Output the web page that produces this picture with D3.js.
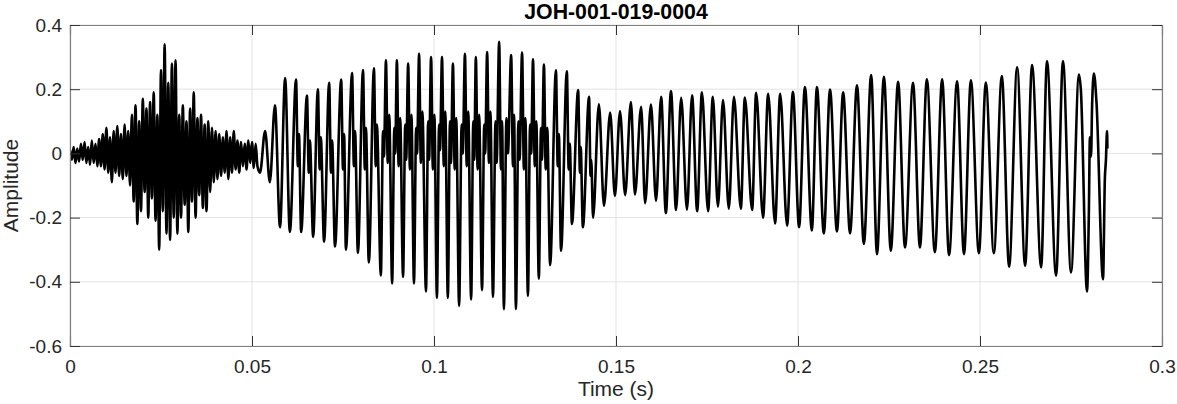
<!DOCTYPE html>
<html><head><meta charset="utf-8">
<script src="https://cdn.jsdelivr.net/npm/d3@7"></script>
<style>body{margin:0;background:#fff}text{font-family:"Liberation Sans",Arial,Helvetica,sans-serif}</style>
</head><body>
<svg id="chart" width="1177" height="404"></svg>
<script>
// ---------- data (times in ms, amplitudes) ----------
const chartTitle = "JOH-001-019-0004";
const xLabel = "Time (s)";
const yLabel = "Amplitude";
const xTicks = [0, 0.05, 0.1, 0.15, 0.2, 0.25, 0.3];
const xTickLabels = ["0", "0.05", "0.1", "0.15", "0.2", "0.25", "0.3"];
const yTicks = [0.4, 0.2, 0, -0.2, -0.4, -0.6];
const yTickLabels = ["0.4", "0.2", "0", "-0.2", "-0.4", "-0.6"];

// unvoiced onset (samples of extrema, every 0.5 ms from 0 ms)
const noiseStepMs = 0.5;
const noiseA = [0.01,-0.02,0.02,-0.03,0.015,-0.025,0.03,-0.02,0.035,-0.03,0.02,-0.035,0.04,-0.03,0.03,-0.04,0.045,
 -0.04,0.06,-0.05,0.08,-0.06,0.05,-0.09,0.07,-0.06,0.085,-0.07,0.06,-0.08,0.09,-0.07,0.07,
 -0.10,0.12,-0.15,0.15,-0.22,0.10,-0.18,0.17,-0.12,0.14,-0.20,0.16,
 -0.14,0.19,-0.21,0.12,-0.30,
 0.26,-0.18,0.34,-0.25,0.22,-0.27,0.28,
 -0.20,0.29,-0.25,0.12,-0.20,0.15,-0.16,
 0.10,-0.245,0.14,-0.15,0.19,-0.20,0.11,
 -0.13,0.12,-0.17,0.09,-0.18,0.10,-0.12,0.08,
 -0.09,0.07,-0.08,0.06,-0.07,0.05,-0.06,0.07,-0.08,0.05,-0.06,0.07,
 -0.05,0.04,-0.06,0.035,-0.04,0.03,-0.05,0.04,-0.03,0.035,-0.045,0.03,-0.04];

const onsetT = [52.2, 53.6, 54.9];
const onsetA = [-0.06, 0.07, -0.09];

// voiced part: cycle peaks
const peakT = [56.3,59.1,62.1,65.1,68.1,71.2,74.5,77.5,80.5,83.5,86.8,89.8,92.9,95.9,99.2,102.2,105.2,108.5,111.5,114.6,
 117.9,121.2,124.2,127.2,130.2,133.5,136.5,139.6,142.6,145.3,148.4,151.1,154.1,156.9,159.6,162.4,165.1,167.9,170.9,173.6,
 176.6,179.4,182.4,185.4,188.5,191.8,195.1,198.6,201.9,205.2,208.8,212.4,216.2,220.1,223.6,227.5,231.6,235.4,239.6,243.7,
 247.5,251.6,256.0,260.2,264.3,268.4,272.8,277.2,281.3];
const peakA = [0.15,0.235,0.23,0.18,0.20,0.22,0.23,0.25,0.26,0.265,0.29,0.29,0.28,0.31,0.30,0.30,0.28,0.31,0.30,0.316,
 0.348,0.306,0.314,0.293,0.277,0.259,0.256,0.197,0.176,0.153,0.127,0.132,0.16,0.145,0.152,0.176,0.194,0.173,0.181,0.19,
 0.176,0.166,0.176,0.174,0.189,0.186,0.186,0.192,0.207,0.207,0.199,0.19,0.2125,0.244,0.239,0.223,0.22,0.231,0.231,0.225,
 0.228,0.221,0.241,0.268,0.275,0.2875,0.2875,0.246,0.249];

// voiced part: cycle troughs
const troughT = [57.7,60.4,63.5,66.8,69.8,72.8,75.8,79.1,82.1,85.4,88.5,91.5,94.5,97.8,100.8,103.8,106.9,110.2,113.2,116.2,
 119.2,122.5,125.8,128.8,131.9,134.9,137.9,140.9,143.7,146.7,149.7,152.5,155.2,158.0,161.0,163.7,166.5,169.5,172.3,175.3,
 178.0,181.0,184.3,187.4,190.4,193.7,197.0,200.3,203.8,207.1,210.7,214.3,218.1,221.7,225.5,229.4,233.5,237.6,241.5,245.6,
 249.7,253.8,258.0,262.4,266.8,270.9,275.0,279.4,283.8];
const troughA = [-0.23,-0.245,-0.245,-0.26,-0.275,-0.29,-0.30,-0.31,-0.34,-0.38,-0.405,-0.385,-0.405,-0.43,-0.45,-0.45,-0.475,-0.455,-0.426,-0.447,
 -0.485,-0.485,-0.444,-0.39,-0.348,-0.303,-0.22,-0.23,-0.20,-0.163,-0.133,-0.13,-0.128,-0.155,-0.147,-0.186,-0.176,-0.175,-0.18,-0.18,
 -0.166,-0.172,-0.172,-0.176,-0.20,-0.218,-0.225,-0.23,-0.24,-0.249,-0.243,-0.249,-0.282,-0.314,-0.303,-0.293,-0.293,-0.308,-0.317,-0.314,
 -0.311,-0.311,-0.353,-0.35,-0.355,-0.381,-0.371,-0.43,-0.392];

// secondary (formant) ripples on the falling side of the cycles
const rippleT = [62.6,62.9,65.6,65.9,68.6,68.9,71.7,72.0,75.0,75.3,78.0,78.3,81.0,81.3,84.0,84.3,87.3,87.7,90.3,90.7,
 93.4,93.8,96.4,96.8,99.7,100.1,102.7,103.1,105.7,106.1,109.0,109.4,112.0,112.4,115.1,115.5,118.4,118.7,121.7,122.0,
 124.7,125.1,127.7,128.1,130.7,131.1,134.0,134.3,137.0,137.3,140.1,140.3,143.0,143.2];
const rippleA = [-0.04,0.06,-0.06,0.04,-0.05,0.05,-0.06,0.04,-0.05,0.06,-0.04,0.07,-0.05,0.08,-0.04,0.09,-0.03,0.12,-0.04,0.11,
 -0.05,0.12,-0.03,0.13,-0.05,0.12,-0.04,0.13,-0.05,0.11,-0.04,0.13,-0.05,0.12,-0.03,0.13,-0.05,0.10,-0.04,0.12,
 -0.05,0.11,-0.04,0.10,-0.05,0.08,-0.04,0.06,-0.05,0.03,-0.06,0.02,-0.07,-0.02];

// secondary ripples on the rising side (dense middle section)
const riseRippleT = [86.0,86.25,89.1,89.35,92.1,92.35,95.1,95.35,98.4,98.65,101.4,101.65,104.4,104.65,107.6,107.9,
 110.8,111.05,113.8,114.05,116.9,117.2,119.9,120.3,123.2,123.5,126.4,126.7,129.4,129.65];
const riseRippleA = [0.07,-0.01,0.08,0.0,0.09,-0.02,0.08,0.0,0.10,-0.02,0.09,0.01,0.10,-0.03,0.09,0.0,
 0.10,-0.02,0.09,0.0,0.10,-0.03,0.11,0.0,0.10,-0.02,0.09,0.0,0.08,-0.02];

// irregular ending
const tailT = [277.7,279.9,280.2,280.5,280.8,282.0,284.3,284.6,284.9,285.0];
const tailA = [0.20,-0.19,0.05,-0.01,0.15,0.16,-0.08,-0.02,0.07,0.015];

// ---------- build ----------
const M = {left: 70, right: 1162, top: 25, bottom: 346};
const svg = d3.select("#chart");
const xs = d3.scaleLinear().domain([0, 0.3]).range([M.left, M.right]);
const ys = d3.scaleLinear().domain([-0.6, 0.4]).range([M.bottom, M.top]);

let pts = [];
noiseA.forEach((a, i) => pts.push([i * noiseStepMs, a]));
onsetT.forEach((t, i) => pts.push([t, onsetA[i]]));
peakT.forEach((t, i) => pts.push([t, peakA[i]]));
troughT.forEach((t, i) => pts.push([t, troughA[i]]));
rippleT.forEach((t, i) => pts.push([t, rippleA[i]]));
riseRippleT.forEach((t, i) => pts.push([t, riseRippleA[i]]));
tailT.forEach((t, i) => pts.push([t, tailA[i]]));
pts.sort((p, q) => p[0] - q[0]);

// grid
const grid = svg.append("g");
grid.selectAll(".gx").data(xTicks).join("line")
  .attr("x1", d => xs(d)).attr("x2", d => xs(d)).attr("y1", M.top).attr("y2", M.bottom)
  .attr("stroke", "#e3e3e3").attr("stroke-width", 1);
grid.selectAll(".gy").data(yTicks).join("line")
  .attr("y1", d => ys(d)).attr("y2", d => ys(d)).attr("x1", M.left).attr("x2", M.right)
  .attr("stroke", "#e3e3e3").attr("stroke-width", 1);

// waveform
svg.append("clipPath").attr("id", "clip").append("rect")
  .attr("x", M.left).attr("y", M.top).attr("width", M.right - M.left).attr("height", M.bottom - M.top);
const line = d3.line().x(d => xs(d[0] / 1000)).y(d => ys(d[1])).curve(d3.curveMonotoneX);
svg.append("path").datum(pts).attr("d", line).attr("clip-path", "url(#clip)")
  .attr("fill", "none").attr("stroke", "#000").attr("stroke-width", 2.6).attr("stroke-linejoin", "round");

// axes box with inward ticks
const tk = 10;
const axisColor = "#808080";
const gBottom = svg.append("g").attr("transform", `translate(0,${M.bottom})`)
  .call(d3.axisBottom(xs).tickValues(xTicks).tickSize(-tk).tickFormat((d, i) => xTickLabels[i]).tickPadding(14));
const gTop = svg.append("g").attr("transform", `translate(0,${M.top})`)
  .call(d3.axisTop(xs).tickValues(xTicks).tickSize(-tk).tickFormat(""));
const gLeft = svg.append("g").attr("transform", `translate(${M.left},0)`)
  .call(d3.axisLeft(ys).tickValues(yTicks).tickSize(-tk).tickFormat((d, i) => yTickLabels[i]).tickPadding(8));
const gRight = svg.append("g").attr("transform", `translate(${M.right},0)`)
  .call(d3.axisRight(ys).tickValues(yTicks).tickSize(-tk).tickFormat(""));
[gBottom, gTop, gLeft, gRight].forEach(g => {
  g.select(".domain").attr("stroke", axisColor).attr("stroke-width", 1.2);
  g.selectAll(".tick line").attr("stroke", "#333").attr("stroke-width", 1);
  g.selectAll("text").attr("fill", "#262626").attr("font-size", 19).attr("font-family", '"Liberation Sans", Arial, sans-serif');
});

// labels
svg.append("text").attr("x", (M.left + M.right) / 2).attr("y", 19).attr("text-anchor", "middle")
  .attr("font-size", 21.3).attr("font-weight", "bold").attr("fill", "#000").text(chartTitle);
svg.append("text").attr("x", (M.left + M.right) / 2).attr("y", 396).attr("text-anchor", "middle")
  .attr("font-size", 21).attr("fill", "#262626").text(xLabel);
svg.append("text").attr("transform", `translate(18,${(M.top + M.bottom) / 2}) rotate(-90)`).attr("text-anchor", "middle")
  .attr("font-size", 21).attr("fill", "#262626").text(yLabel);
</script>
</body></html>
